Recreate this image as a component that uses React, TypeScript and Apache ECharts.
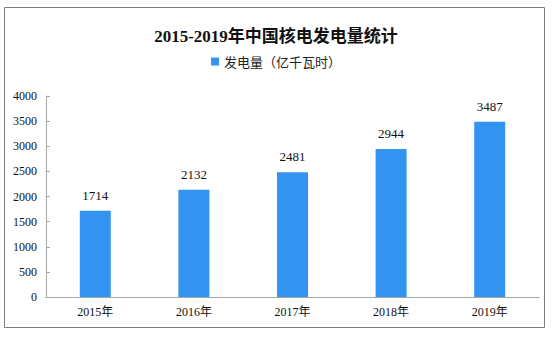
import React, { useEffect, useRef } from "react";
import * as echarts from "echarts";

const categories = ["2015年", "2016年", "2017年", "2018年", "2019年"];
const values = [1714, 2132, 2481, 2944, 3487];
const seriesName = "发电量（亿千瓦时）";
const titleText = "2015-2019年中国核电发电量统计";

export default function App() {
  const ref = useRef<HTMLDivElement>(null);
  useEffect(() => {
    if (!ref.current) return;
    const chart = echarts.init(ref.current, null, { renderer: "svg" });
    chart.setOption({
      animation: false,
      backgroundColor: "#ffffff",
      title: {
        text: titleText,
        left: "center",
        top: 23,
        textStyle: {
          fontFamily: "'Liberation Serif', 'Noto Sans CJK SC', serif",
          fontWeight: "bold",
          fontSize: 17,
          color: "#111111",
        },
      },
      legend: {
        data: [seriesName],
        top: 50,
        left: "center",
        icon: "rect",
        itemWidth: 8,
        itemHeight: 8,
        itemGap: 6,
        textStyle: {
          fontFamily: "'Noto Sans CJK SC', sans-serif",
          fontSize: 13,
          color: "#222222",
        },
      },
      graphic: [
        {
          type: "rect",
          shape: { x: 4.5, y: 7.5, width: 540, height: 320 },
          style: { fill: "none", stroke: "#7f7f7f", lineWidth: 1 },
          silent: true,
        },
      ],
      grid: { left: 46, right: 13, top: 96, bottom: 41 },
      xAxis: {
        type: "category",
        data: categories,
        axisLine: { lineStyle: { color: "#a6a6a6" } },
        axisTick: { show: false },
        axisLabel: {
          fontFamily: "'Liberation Serif', 'Noto Sans CJK SC', serif",
          fontSize: 12,
          color: "#111111",
          margin: 9,
        },
      },
      yAxis: {
        type: "value",
        min: 0,
        max: 4000,
        interval: 500,
        splitLine: { show: false },
        axisLine: { show: true, lineStyle: { color: "#a6a6a6" } },
        axisTick: { show: true, inside: true, length: 4, lineStyle: { color: "#a6a6a6" } },
        axisLabel: {
          fontFamily: "'Liberation Serif', serif",
          fontSize: 12,
          color: "#111111",
          margin: 9,
          formatter: (v: number) => String(v),
        },
      },
      series: [
        {
          name: seriesName,
          type: "bar",
          data: values,
          barWidth: 31,
          itemStyle: { color: "#3393f0" },
          label: {
            show: true,
            position: "top",
            distance: 9,
            fontFamily: "'Liberation Serif', serif",
            fontSize: 13,
            color: "#111111",
          },
        },
      ],
    });
    return () => chart.dispose();
  }, []);
  return (
    <div
      ref={ref}
      style={{ position: "fixed", left: 0, top: 0, width: 552, height: 338 }}
    />
  );
}
